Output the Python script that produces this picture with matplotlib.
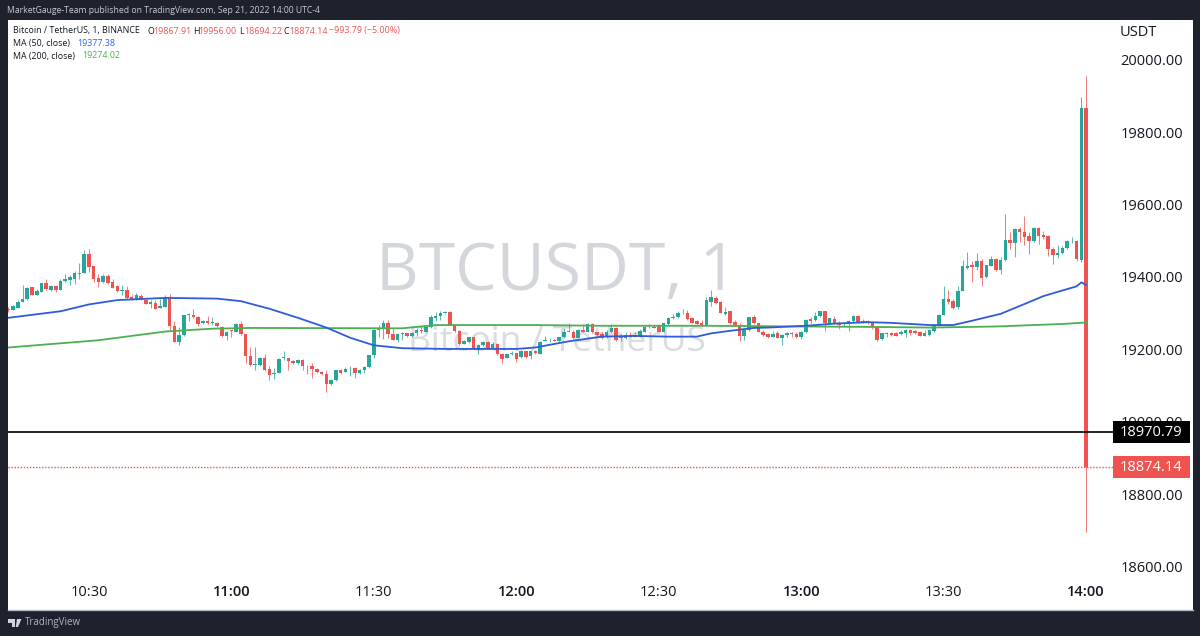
import matplotlib
matplotlib.use("Agg")
import matplotlib.pyplot as plt
from matplotlib.patches import Rectangle, Polygon
from matplotlib.transforms import blended_transform_factory
import numpy as np

plt.rcParams['font.family'] = ['Open Sans', 'DejaVu Sans']

# minutes after 10:30, first candle is 10:13, last is 14:00
first_minute = -17
open_ = [
 19312,19309,19314,19330,19338,19371,19351,19359,19383,19364,19375,19364,19388,19391,19395,19409,19412,
 19464,19429,19397,19387,19403,19385,19374,19362,19364,19344,19339,19348,19337,19326,19329,19314,19318,
 19341,19265,19221,19239,19295,19295,19289,19273,19278,19273,19274,
 19262,19236,19253,19249,19269,19242,19182,19157,19156,19176,19145,19133,19135,19175,19176,19168,19161,19171,19153,19153,19146,19138,
 19132,19103,19114,19143,19137,19147,19149,19135,19142,19151,19183,19257,19257,19274,19242,19225,19242,19244,19237,19246,19254,19249,
 19261,19287,19293,19301,19304,
 19267,19251,19216,19219,19233,19198,19211,19219,19203,19216,19188,19177,19186,19189,19179,19194,19182,19194,19188,19223,19225,19227,19222,
 19233,19251,19249,19231,19253,19249,19270,19247,19242,19233,19247,19259,19237,19230,19240,19237,19235,19249,19262,19262,19263,19249,
 19270,19286,19288,19301,19301,19286,19277,19274,19265,19332,19342,19330,19298,19305,19275,19268,19237,19254,
 19288,19272,19249,19242,19235,19244,19230,19240,19244,19243,19233,19247,19283,19281,19291,19305,19273,19284,19274,19269,19270,19277,19293,19276,19279,
 19272,19261,19228,19246,19246,19246,19242,19244,19252,19251,19247,19238,19239,19251,19265,19296,
 19339,19333,19316,19361,19424,19432,19427,19444,19399,19431,19450,19418,19446,19503,19494,19532,19523,19512,19499,19536,19516,19512,19478,19460,19466,19479,19498,19500,19448,
 19867.91]
high = [
 19316,19323,19335,19378,19371,19372,19367,19384,19393,19378,19376,19395,19409,19406,19415,19439,19475,
 19476,19430,19409,19409,19409,19395,19378,19378,19374,19353,19355,19353,19341,19335,19335,19339,19349,
 19353,19279,19261,19295,19299,19310,19291,19282,19291,19288,19276,
 19265,19251,19254,19274,19277,19243,19207,19207,19179,19186,19154,19149,19175,19194,19177,19170,19172,19172,19157,19163,19148,19140,
 19142,19117,19144,19145,19150,19153,19151,19146,19154,19185,19262,19268,19281,19281,19259,19244,19249,19246,19249,19259,19265,19265,
 19296,19304,19307,19306,19306,
 19270,19253,19225,19235,19235,19214,19223,19223,19219,19218,19191,19188,19196,19191,19198,19196,19196,19198,19222,19237,19230,19229,19235,
 19259,19272,19253,19256,19270,19274,19274,19249,19249,19253,19270,19261,19242,19247,19247,19247,19256,19265,19270,19268,19270,19274,
 19290,19298,19307,19312,19309,19288,19281,19281,19344,19364,19346,19333,19318,19307,19281,19274,19256,19290,
 19295,19274,19253,19244,19251,19251,19242,19247,19247,19247,19250,19284,19290,19302,19307,19306,19287,19293,19277,19274,19281,19296,19295,19283,19281,
 19274,19265,19246,19249,19248,19248,19253,19255,19255,19254,19250,19253,19255,19266,19298,19376,
 19364,19338,19376,19448,19469,19444,19466,19450,19434,19457,19453,19455,19575,19525,19534,19538,19568,19525,19538,19538,19527,19515,19483,19489,19485,19502,19511,19501,19898,
 19956.00]
low = [
 19304,19309,19313,19330,19337,19349,19349,19358,19364,19360,19357,19363,19387,19378,19380,19395,19412,
 19413,19386,19373,19384,19381,19369,19358,19349,19339,19337,19337,19337,19325,19315,19312,19313,19316,
 19251,19219,19213,19237,19279,19287,19263,19269,19270,19267,19262,
 19233,19225,19233,19248,19239,19162,19155,19143,19154,19140,19116,19119,19134,19170,19143,19159,19159,19143,19133,19120,19134,19128,
 19083,19101,19112,19131,19136,19125,19122,19133,19135,19149,19175,19235,19228,19230,19225,19219,19225,19233,19233,19237,19244,19247,
 19259,19279,19282,19299,19267,
 19249,19212,19214,19217,19198,19186,19210,19200,19200,19185,19163,19175,19184,19166,19177,19175,19173,19186,19186,19222,19221,19222,19220,
 19231,19247,19229,19230,19247,19247,19245,19237,19228,19231,19245,19223,19223,19228,19233,19233,19233,19247,19259,19259,19247,19247,
 19268,19285,19286,19298,19282,19273,19268,19264,19264,19321,19325,19299,19296,19270,19265,19224,19225,19251,
 19270,19247,19237,19231,19233,19230,19212,19233,19235,19231,19228,19244,19274,19279,19288,19251,19270,19270,19256,19265,19251,19274,19274,19274,19270,
 19256,19222,19226,19235,19237,19237,19240,19233,19239,19242,19236,19237,19237,19249,19263,19295,
 19325,19312,19312,19360,19423,19386,19418,19376,19398,19429,19416,19409,19444,19478,19455,19497,19487,19462,19497,19492,19506,19457,19437,19453,19464,19477,19494,19443,19442,
 18694.22]
close = [
 19308,19320,19331,19339,19369,19351,19361,19383,19367,19376,19365,19388,19393,19399,19410,19412,19462,
 19427,19393,19387,19403,19383,19370,19361,19364,19341,19339,19349,19339,19326,19330,19312,19321,19341,
 19263,19221,19239,19294,19298,19288,19270,19278,19272,19275,19264,
 19236,19249,19251,19269,19242,19182,19157,19160,19177,19143,19130,19135,19173,19179,19168,19161,19170,19153,19155,19145,19137,19132,
 19105,19115,19142,19135,19146,19149,19135,19143,19150,19183,19254,19253,19274,19242,19226,19242,19244,19237,19246,19253,19250,19261,
 19288,19293,19301,19303,19268,
 19251,19214,19223,19233,19200,19212,19219,19203,19216,19188,19173,19186,19189,19173,19195,19179,19194,19190,19219,19226,19227,19223,19233,
 19249,19248,19231,19253,19249,19270,19247,19239,19231,19247,19259,19225,19231,19239,19235,19235,19251,19261,19261,19260,19249,19272,
 19286,19290,19301,19299,19284,19274,19270,19265,19336,19344,19328,19301,19304,19272,19267,19237,19254,19288,
 19272,19249,19239,19233,19242,19232,19240,19244,19242,19233,19249,19281,19279,19292,19305,19273,19286,19273,19268,19272,19279,19293,19276,19278,19272,
 19261,19225,19244,19242,19239,19238,19248,19253,19244,19246,19237,19245,19253,19264,19296,19339,
 19332,19314,19361,19429,19429,19427,19444,19398,19432,19450,19418,19448,19503,19494,19532,19523,19511,19499,19536,19513,19511,19478,19461,19467,19481,19500,19500,19450,19867,
 18874.14]

ma50_minutes = [-17,-6,0,6,16,27,32,38,44,50,55,60,66,75,90,94,101,108,115,122,128,131,135,140,143,151,157,164,169,177,182,186,192,197,201,208,209,210]
ma50_values = [19287,19305,19324,19336,19342,19340,19333,19312,19287,19260,19232,19211,19203,19201,19201,19205,19222,19235,19237,19235,19235,19244,19251,19259,19260,19265,19271,19275,19273,19267,19267,19279,19298,19325,19347,19374,19385,19377.38]
ma200_minutes = [-17,2,16,26,34,66,73,94,108,130,151,163,177,191,205,210]
ma200_values = [19205,19225,19249,19257,19259,19258,19267,19267,19265,19265,19263,19262,19260,19263,19270,19274.02]

price_ticks = [18600,18800,19000,19200,19400,19600,19800,20000]
time_ticks = [0,30,60,90,120,150,180,210]
time_labels = ['10:30','11:00','11:30','12:00','12:30','13:00','13:30','14:00']
time_bold = ['11:00','12:00','13:00','14:00']
pair_price = 18970.79
last_price = 18874.14

UP, DOWN = '#26A69A', '#EF5350'
W, H = 1200, 636
fig = plt.figure(figsize=(W/100, H/100), dpi=100, facecolor='#1E222D')
L, R, T, B = 7.5, 1192.5, 20, 609.5
ax = fig.add_axes([L/W, 1-B/H, (R-L)/W, (B-T)/H], facecolor='white')
ax.set_xlim(-17.16, 232.4)
ax.set_ylim(18481.2, 20109.7)

for s in ('top','left','right'):
    ax.spines[s].set_visible(False)
ax.spines['bottom'].set_color('#B2B5BE')
ax.spines['bottom'].set_linewidth(1)

ax.yaxis.tick_right()
ax.set_yticks(price_ticks)
ax.set_yticklabels([f'{p:.2f}' for p in price_ticks])
ax.tick_params(axis='y', length=0, pad=-52, labelsize=10.5, labelcolor='#131722')
for lab in ax.get_yticklabels():
    lab.set_ha('left')
ax.set_xticks(time_ticks)
ax.set_xticklabels(time_labels)
ax.tick_params(axis='x', length=0, pad=-17.5, labelsize=10.5, labelcolor='#131722')
for lab in ax.get_xticklabels():
    if lab.get_text() in time_bold:
        lab.set_fontweight('semibold')

# watermark
ax.text(98.5, 19410, 'BTCUSDT, 1', fontsize=47.5, color='#D3D6DB', ha='center', va='center', zorder=0.5)
ax.text(98.5, 19220, 'Bitcoin / TetherUS', fontsize=25.5, color='#DADCE0', ha='center', va='center', zorder=0.5)

# candles
op, hi, lo, cl = map(np.array, (open_, high, low, close))
minutes = first_minute + np.arange(len(op))
colors = [UP if c >= o else DOWN for o, c in zip(op, cl)]
ax.vlines(minutes, lo, hi, colors=colors, linewidth=0.75, alpha=0.75, zorder=2)
ax.bar(minutes, np.abs(cl-op), bottom=np.minimum(op, cl), width=0.74, color=colors, zorder=2.2)

ax.plot(ma50_minutes, ma50_values, color='#2F5BDB', lw=1.3, zorder=3, solid_joinstyle='round')
ax.plot(ma200_minutes, ma200_values, color='#4CAF50', lw=1.3, zorder=2.9)

# price lines and their labels
tr = blended_transform_factory(ax.transAxes, ax.transData)
box_l = (1112.5-L)/(R-L)
box_w = 77/(R-L)
ax.plot([0, box_l], [pair_price]*2, color='black', lw=1.2, transform=tr, zorder=3.5)
ax.plot([0, box_l], [last_price]*2, color=DOWN, lw=1.0, ls=(0, (1, 1.2)), transform=tr, zorder=3.5)
for price, col in ((pair_price, 'black'), (last_price, DOWN)):
    ax.add_patch(Rectangle((box_l, price-30), box_w, 60, transform=tr, facecolor=col, edgecolor='none', zorder=5))
    ax.text(box_l+box_w/2, price, f'{price:.2f}', transform=tr, color='white', fontsize=10.5,
            ha='center', va='center', zorder=6)

# texts outside the plot body
def ftext(x, y, s, **kw):
    kw.setdefault('fontsize', 6.4)
    kw.setdefault('va', 'center')
    fig.text(x/W, 1-y/H, s, **kw)

ftext(7, 10.5, 'MarketGauge-Team published on TradingView.com, Sep 21, 2022 14:00 UTC-4', color='#C8CBD3', fontsize=6.2)
ftext(13, 31, 'Bitcoin / TetherUS, 1, BINANCE', color='#131722')
for x, s, c in ((147,'O','#131722'),(153,'19867.91',DOWN),(193,'H','#131722'),(198.5,'19956.00',DOWN),
                (239,'L','#131722'),(244,'18694.22',DOWN),(284,'C','#131722'),(289,'18874.14',DOWN),
                (329,'\u2212993.79 (\u22125.00%)',DOWN)):
    ftext(x, 31, s, color=c)
ftext(13, 43.5, 'MA (50, close)', color='#131722')
ftext(77, 43.5, '19377.38', color='#2962FF')
ftext(13, 56, 'MA (200, close)', color='#131722')
ftext(82, 56, '19274.02', color='#4CAF50')
ftext(1120, 32.5, 'USDT', color='#131722', fontsize=10.5)
ftext(25, 623, 'TradingView', color='#B2B5BE', fontsize=7)

# TradingView logo
px = lambda pts: [(x/W, 1-y/H) for x, y in pts]
for pts in ([(8,619),(15,619),(15,627),(11.5,627),(11.5,622.5),(8,622.5)],
            [(17,619),(21.5,619),(18,627),(15.8,627)]):
    fig.add_artist(Polygon(px(pts), closed=True, transform=fig.transFigure, facecolor='#D1D4DC', edgecolor='none'))

fig.savefig('out.png', dpi=100, facecolor=fig.get_facecolor())
